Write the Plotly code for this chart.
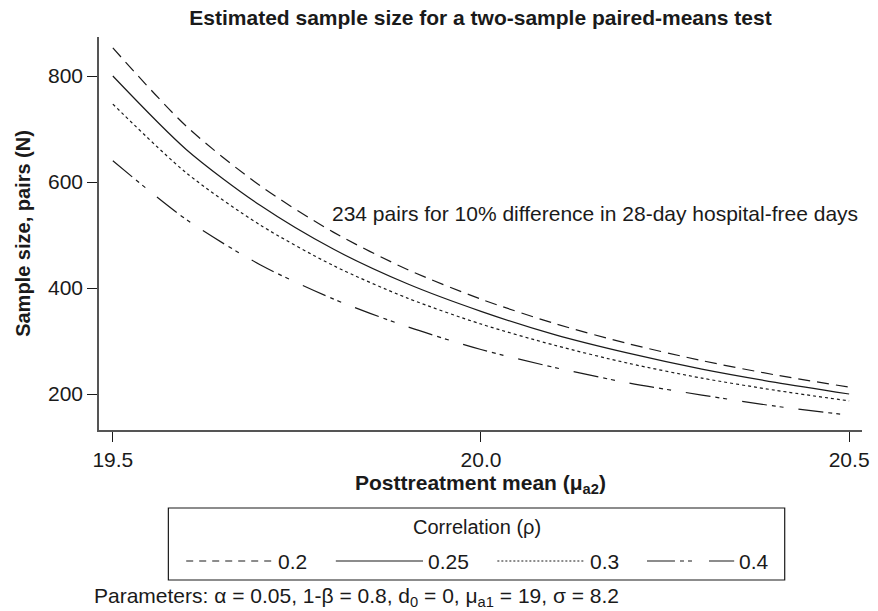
import plotly.graph_objects as go

# ---- data ----
mu_a2 = [19.5, 19.6, 19.7, 19.8, 19.9, 20.0, 20.1, 20.2, 20.3, 20.4, 20.5]
n_rho_020 = [853, 705, 593, 505, 435, 379, 333, 295, 263, 236, 213]
n_rho_025 = [800, 661, 556, 473, 408, 356, 312, 277, 247, 222, 200]
n_rho_030 = [747, 617, 519, 442, 381, 332, 292, 258, 230, 207, 187]
n_rho_040 = [640, 529, 444, 379, 327, 284, 250, 221, 198, 177, 160]
rho_labels = ["0.2", "0.25", "0.3", "0.4"]
x_ticks = [19.5, 20.0, 20.5]
x_ticktext = ["19.5", "20.0", "20.5"]
y_ticks = [200, 400, 600, 800]

W, H = 878, 611
ML, MR, MT, MB = 99, 9, 37, 181
PW, PH = W - ML - MR, H - MT - MB

def px(xp):
    return (xp - ML) / PW

def py(yp):
    return (H - MB - yp) / PH

FONT = "Liberation Sans, Arial, Helvetica, sans-serif"
INK = "#1a1a1a"

plot_dashes = ["12px,7px", "solid", "3px,3px", "25px,5px,4px,4px,4px,15px"]
legend_dashes = ["7px,6px", "solid", "2px,2px", "28px,5px,4px,4px,4px,17px,26px,100px"]
series = [n_rho_020, n_rho_025, n_rho_030, n_rho_040]

fig = go.Figure()
for lab, ys, d in zip(rho_labels, series, plot_dashes):
    fig.add_trace(go.Scatter(
        x=mu_a2, y=ys, mode="lines", name=lab,
        line=dict(color=INK, width=1.2, dash=d, shape="spline", smoothing=0.8),
        showlegend=False,
    ))

fig.add_annotation(
    x=19.795, y=541, xref="x", yref="y", xanchor="left", yanchor="middle",
    text="234 pairs for 10% difference in 28-day hospital-free days",
    showarrow=False, font=dict(size=21, color=INK, family=FONT),
)

# ---- legend drawn manually (box, title, samples, labels) ----
fig.add_shape(type="rect", xref="paper", yref="paper",
              x0=px(169), x1=px(791), y0=py(580), y1=py(508),
              line=dict(color=INK, width=1.2), fillcolor="rgba(0,0,0,0)")
fig.add_annotation(x=px(480), y=py(527), xref="paper", yref="paper",
                   text="Correlation (ρ)", showarrow=False, xanchor="center", yanchor="middle",
                   font=dict(size=20, color=INK, family=FONT))
leg_y = 561
samples = [(187, 275), (338, 426), (501, 589), (652, 740)]
for (a, b), lab, d in zip(samples, rho_labels, legend_dashes):
    fig.add_shape(type="line", xref="paper", yref="paper",
                  x0=px(a), x1=px(b), y0=py(leg_y), y1=py(leg_y),
                  line=dict(color=INK, width=1.2, dash=d))
    fig.add_annotation(x=px(b + 3), y=py(leg_y), xref="paper", yref="paper",
                       text=lab, showarrow=False, xanchor="left", yanchor="middle",
                       font=dict(size=21, color=INK, family=FONT))

fig.add_annotation(
    x=px(92), y=py(597), xref="paper", yref="paper", xanchor="left", yanchor="middle",
    text="Parameters: α = 0.05, 1-β = 0.8, d<sub>0</sub> = 0, μ<sub>a1</sub> = 19, σ = 8.2",
    showarrow=False, font=dict(size=21, color=INK, family=FONT),
)

fig.update_layout(
    width=W, height=H,
    margin=dict(l=ML, r=MR, t=MT, b=MB, pad=0),
    paper_bgcolor="white", plot_bgcolor="white",
    font=dict(family=FONT, color=INK),
    title=dict(text="<b>Estimated sample size for a two-sample paired-means test</b>",
               x=px(484), xanchor="center", y=1 - 18 / H, yanchor="middle",
               xref="paper", yref="container",
               font=dict(size=21, color=INK, family=FONT)),
    showlegend=False,
)
fig.update_xaxes(
    range=[19.4812, 20.5175], tickvals=x_ticks, ticktext=x_ticktext,
    showgrid=False, zeroline=False, showline=True, linecolor="#555", linewidth=1.5,
    ticks="outside", ticklen=10, tickwidth=1.2, tickcolor=INK,
    tickfont=dict(size=21, color=INK, family=FONT),
    title=dict(text="<b>Posttreatment mean (μ<sub>a2</sub>)</b>", standoff=4,
               font=dict(size=21, color=INK, family=FONT)),
)
fig.update_yaxes(
    range=[132.1, 873.6], tickvals=y_ticks,
    showgrid=False, zeroline=False, showline=True, linecolor="#555", linewidth=1.5,
    ticks="outside", ticklen=10, tickwidth=1.2, tickcolor=INK,
    tickfont=dict(size=21, color=INK, family=FONT),
    title=dict(text="<b>Sample size, pairs (N)</b>", standoff=12,
               font=dict(size=20, color=INK, family=FONT)),
)

fig.write_html(
    "out.html",
    config={"displayModeBar": False},
    post_script="document.body.style.margin='0px';document.body.style.overflow='hidden';",
)
